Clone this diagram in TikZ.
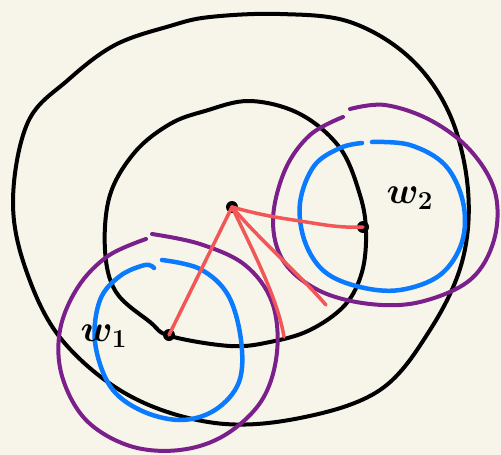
\documentclass[tikz,border=0pt]{standalone}
\definecolor{bg}{HTML}{F7F5EA}
\definecolor{pur}{HTML}{7B1F8A}
\definecolor{blu}{HTML}{0A7AFF}
\definecolor{redl}{HTML}{F25656}
\newcommand{\biglab}[1]{\scalebox{1.8}{\huge\boldmath$#1$}}
\begin{document}
\begin{tikzpicture}[x=1pt,y=-1pt,line cap=round,line join=round,
  blk/.style={draw=black,line width=4pt},
  purp/.style={draw=pur,line width=4pt},
  blue/.style={draw=blu,line width=4.5pt},
  redline/.style={draw=redl,line width=3.5pt},
  dotfill/.style={fill=black},
  lab/.style={inner sep=0pt}]
\fill[bg] (0,0) rectangle (501,455);
\useasboundingbox (0,0) rectangle (501,455);
% outer black curve
\draw[blk] plot[smooth cycle,tension=0.6] coordinates {
 (210,17) (280,14) (350,22) (410,58) (450,115) (468,190) (462,262) (430,330)
 (380,390) (300,418) (215,423) (130,396) (62,340) (26,270) (13,200) (28,122)
 (68,80) (115,45) (170,26)};
% inner black curve
\draw[blk] plot[smooth cycle,tension=0.6] coordinates {
 (205,111) (250,101) (300,114) (340,148) (360,195) (366,232) (362,272) (345,305)
 (310,330) (270,342) (230,346) (170,336) (150,322) (116,292) (105,250) (110,195)
 (135,152) (170,124)};
% right purple
\draw[purp] plot[smooth,tension=0.6] coordinates {
 (350,109) (385,105) (430,120) (470,150) (495,192) (494,240) (470,280) (420,302)
 (370,304) (320,291) (284,262) (273,220) (285,170) (310,135) (343,117)};
% right blue
\draw[blue] plot[smooth,tension=0.6] coordinates {
 (372,142) (410,145) (445,165) (463,202) (462,242) (440,275) (400,290) (360,287)
 (325,272) (305,242) (300,203) (314,166) (340,148) (362,143)};
% left purple
\draw[purp] plot[smooth,tension=0.6] coordinates {
 (152,234) (200,244) (245,265) (272,302) (277,352) (262,400) (225,435) (180,450)
 (130,446) (86,420) (62,376) (60,330) (78,287) (108,256) (146,239)};
% left blue
\draw[blue] plot[smooth,tension=0.6] coordinates {
 (162,260) (200,269) (228,295) (241,340) (239,382) (215,410) (180,420) (140,410)
 (110,386) (95,342) (100,300) (120,276) (145,265) (154,268)};
% points
\coordinate (c) at (232,207);
\coordinate (d1) at (169,335);
\coordinate (d2) at (363,227);
\coordinate (e1) at (284,337);
\coordinate (e2) at (326,305);
\fill[dotfill] (c) circle (6pt);
\fill[dotfill] (d1) circle (6pt);
\fill[dotfill] (d2) circle (6pt);
% red lines
\draw[redline] (c) -- (d1);
\draw[redline] (c) .. controls (255,255) and (278,300) .. (e1);
\draw[redline] (c) .. controls (260,240) and (300,275) .. (e2);
\draw[redline] (c) .. controls (260,215) and (280,218) .. (300,221)
  .. controls (325,225) and (340,228) .. (d2);
% labels
\node[lab] (w1) at (104,336) {\biglab{w_1}};
\node[lab] (w2) at (410,198) {\biglab{w_2}};
\end{tikzpicture}
\end{document}
